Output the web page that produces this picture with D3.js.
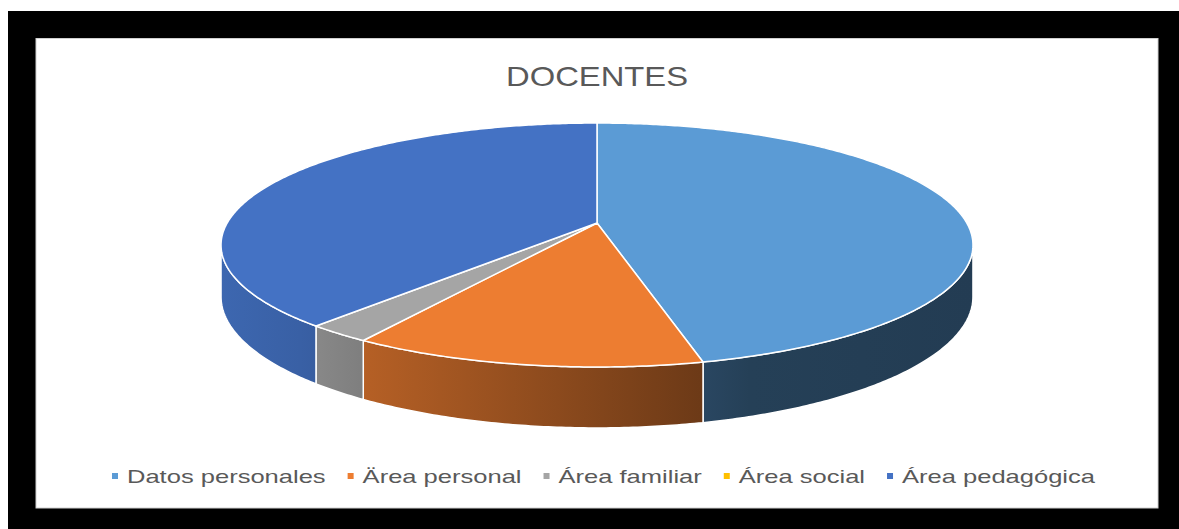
<!DOCTYPE html>
<html>
<head>
<meta charset="utf-8">
<script src="https://cdn.jsdelivr.net/npm/d3@7"></script>
<style>
  body { margin: 0; background: #fff; }
  svg { display: block; }
</style>
</head>
<body>
<div class="chart"></div>
<script>
var categories = ["Datos personales", "Ärea personal", "Área familiar", "Área social", "Área pedagógica"];
var values = [46.2, 12.8, 2.4, 0, 38.6];
var colors = ["#5B9BD5", "#ED7D31", "#A5A5A5", "#FFC000", "#4472C4"];
var title = "DOCENTES";

var W = 1179, H = 529;
var svg = d3.select(".chart").append("svg").attr("width", W).attr("height", H);

// black frame and white panel
svg.append("rect").attr("x", 8).attr("y", 11).attr("width", W - 8).attr("height", H - 11).attr("fill", "#000");
svg.append("rect").attr("x", 36).attr("y", 38.5).attr("width", 1122).attr("height", 469.5)
    .attr("fill", "#fff").attr("stroke", "#d0d0d0").attr("stroke-width", 1);

svg.append("text").text(title)
    .attr("x", 506).attr("y", 85.5)
    .attr("font-family", "Liberation Sans").attr("font-size", 28)
    .attr("fill", "#595959")
    .attr("textLength", 182).attr("lengthAdjust", "spacingAndGlyphs");

// perspective projection of the disk
var cx = 597, cy = 223, A = 369.8, B = 118, k = 0.1803, depth = 50;
function proj(t, drop) {
    var u = Math.sin(t), v = Math.cos(t), w = 1 + k * v;
    return [cx + A * u / w, cy - B * v / w + (drop ? depth / w : 0)];
}
function arcPts(a0, a1, drop) {
    var n = Math.max(2, Math.ceil((a1 - a0) / 0.01)), pts = [];
    for (var i = 0; i <= n; i++) pts.push(proj(a0 + (a1 - a0) * i / n, drop));
    return pts;
}

var pie = d3.pie().sort(null).value(function (d) { return d; });
var arcs = pie(values).map(function (d, i) { d.color = colors[i]; return d; })
    .filter(function (d) { return d.endAngle - d.startAngle > 0; });

// side shading gradients (darker toward the right)
var shade = d3.scaleLinear().domain([220, 300, 370, 700, 750, 975]).range([0.9, 0.84, 0.76, 0.46, 0.41, 0.39]);
var defs = svg.append("defs");
arcs.forEach(function (d, i) {
    var g = defs.append("linearGradient").attr("id", "side" + i)
        .attr("gradientUnits", "userSpaceOnUse")
        .attr("x1", 220).attr("x2", 975).attr("y1", 0).attr("y2", 0);
    shade.domain().forEach(function (x) {
        var c = d3.rgb(d.color), f = shade(x);
        g.append("stop").attr("offset", (x - 220) / 755)
            .attr("stop-color", d3.rgb(c.r * f, c.g * f, c.b * f));
    });
});

var lo = Math.acos(-k), hi = 2 * Math.PI - lo;
var line = d3.line();

svg.append("g").selectAll("path")
    .data(arcs.filter(function (d) { return d.endAngle > lo && d.startAngle < hi; }))
    .enter().append("path")
    .attr("fill", function (d) { return "url(#side" + arcs.indexOf(d) + ")"; })
    .attr("stroke", "#fff").attr("stroke-width", 1.5).attr("stroke-linejoin", "round")
    .attr("d", function (d) {
        var a0 = Math.max(d.startAngle, lo), a1 = Math.min(d.endAngle, hi);
        var pts = arcPts(a0, a1, false).concat(arcPts(a0, a1, true).reverse());
        return line(pts) + "Z";
    });

svg.append("g").selectAll("path")
    .data(arcs)
    .enter().append("path")
    .attr("fill", function (d) { return d.color; })
    .attr("stroke", "#fff").attr("stroke-width", 1.5).attr("stroke-linejoin", "round")
    .attr("d", function (d) {
        return line([[cx, cy]].concat(arcPts(d.startAngle, d.endAngle, false))) + "Z";
    });

// legend, stretched to the reference span
var left = 112, right = 1095, gap = 22, msize = 6, mgap = 9;
var legend = svg.append("g");
var items = legend.selectAll("g").data(categories).enter().append("g");
items.append("rect").attr("width", msize).attr("height", msize).attr("y", 473)
    .attr("fill", function (d, i) { return colors[i]; });
items.append("text").text(function (d) { return d; })
    .attr("y", 483).attr("font-family", "Liberation Sans").attr("font-size", 18.5)
    .attr("fill", "#595959");
var natural = [];
items.select("text").each(function () { natural.push(this.getComputedTextLength()); });
var fixed = categories.length * (msize + mgap) + gap * (categories.length - 1);
var stretch = (right - left - fixed) / d3.sum(natural);
var x = left;
items.each(function (d, i) {
    var g = d3.select(this), w = natural[i] * stretch;
    g.select("rect").attr("x", x);
    g.select("text").attr("x", x + msize + mgap)
        .attr("textLength", w).attr("lengthAdjust", "spacingAndGlyphs");
    x += msize + mgap + w + gap;
});
</script>
</body>
</html>
